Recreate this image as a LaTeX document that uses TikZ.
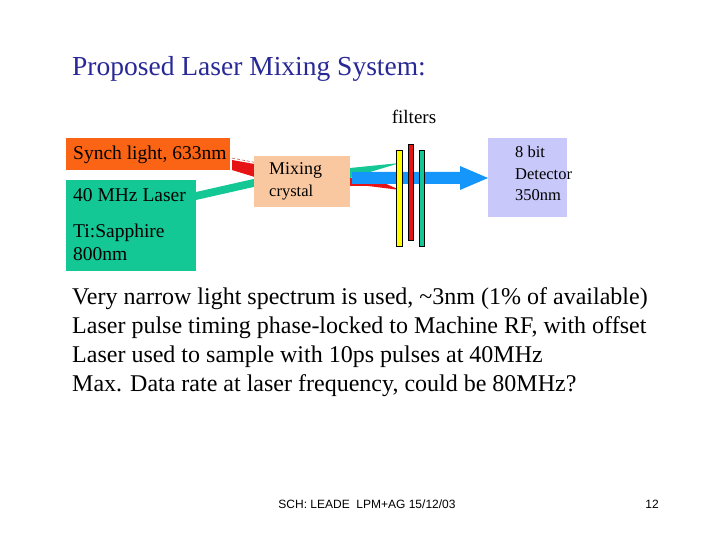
\documentclass[tikz,border=0pt]{standalone}
\usepackage{fontspec}
\setmainfont{Liberation Serif}
\newfontfamily\footsans{Liberation Sans}
\definecolor{synch}{RGB}{250,100,20}
\definecolor{laser}{RGB}{20,200,150}
\definecolor{crystal}{RGB}{250,200,160}
\definecolor{det}{RGB}{200,200,250}
\definecolor{titleblue}{RGB}{40,40,150}
\definecolor{beamblue}{RGB}{20,150,250}
\definecolor{yel}{RGB}{255,255,0}
\definecolor{rd}{RGB}{230,20,20}
\begin{document}
\begin{tikzpicture}[x=1pt,y=-1pt,
  box/.style={anchor=north west,inner sep=0pt,outer sep=0pt},
  txt/.style={anchor=north west,align=left,inner sep=0pt,font=\fontsize{19.5}{23}\selectfont}]
\useasboundingbox (0,0) rectangle (720,540);
\node[anchor=base west,inner sep=0pt,text=titleblue,font=\fontsize{27.5}{32}\selectfont] (title) at (72,76) {Proposed Laser Mixing System:};
\node[anchor=base,inner sep=0pt,font=\fontsize{19}{22}\selectfont] (filt) at (414,124) {filters};
% beams in
\fill[rd] (232,160) -- (260,165) -- (258,178) -- (232,170) -- cycle;
\draw[rd!70!black,densely dashed,thin] (232,158) -- (258,163);
\fill[laser] (196,192) -- (258,178) -- (258,186) -- (196,200) -- cycle;
% boxes
\node[box,fill=synch,minimum width=164pt,minimum height=32pt] (synch) at (66,138) {};
\node[txt] at (73,146) {Synch light, 633nm};
\node[box,fill=laser,minimum width=130pt,minimum height=91pt] (las) at (66,180) {};
\node[txt] at (73,188) {40 MHz Laser};
\node[txt] at (73,224) {Ti:Sapphire\\800nm};
\node[box,fill=crystal,minimum width=96pt,minimum height=51pt] (crys) at (254,156) {};
\node[txt,font=\fontsize{18}{20}\selectfont] at (269,162) {Mixing};
\node[txt,font=\fontsize{16.5}{19}\selectfont] at (269,185) {crystal};
% output beams
\fill[laser] (350,168) -- (400,163) -- (350,178) -- cycle;
\fill[rd] (350,178) -- (368,180) -- (368,176) -- (400,190) -- (368,186) -- (350,186) -- cycle;
\fill[beamblue] (352,172) -- (460,172) -- (460,166) -- (488,178) -- (460,190) -- (460,184) -- (352,184) -- cycle;
% filters
\draw[fill=yel] (396,150) rectangle (402,246);
\draw[fill=rd] (408,144) rectangle (413,240);
\draw[fill=laser] (419,150) rectangle (424,246);
\node[box,fill=det,minimum width=79pt,minimum height=79pt] (det) at (488,138) {};
\node[txt,font=\fontsize{16.5}{21.5}\selectfont] at (515,146) {8 bit\\Detector\\350nm};
\node[anchor=north west,align=left,inner sep=0pt,font=\fontsize{24}{29}\selectfont] (body) at (72,287)
 {Very narrow light spectrum is used, \textasciitilde3nm (1\% of available)\\
 Laser pulse timing phase-locked to Machine RF, with offset\\
 Laser used to sample with 10ps pulses at 40MHz\\
 Max. Data rate at laser frequency, could be 80MHz?};
\node[anchor=base,inner sep=0pt,font=\footsans\fontsize{12}{14}\selectfont] (foot) at (367,508) {SCH: LEADE\ \ LPM+AG 15/12/03};
\node[anchor=base,inner sep=0pt,font=\footsans\fontsize{12}{14}\selectfont] (num) at (652,508) {12};
\end{tikzpicture}
\end{document}
